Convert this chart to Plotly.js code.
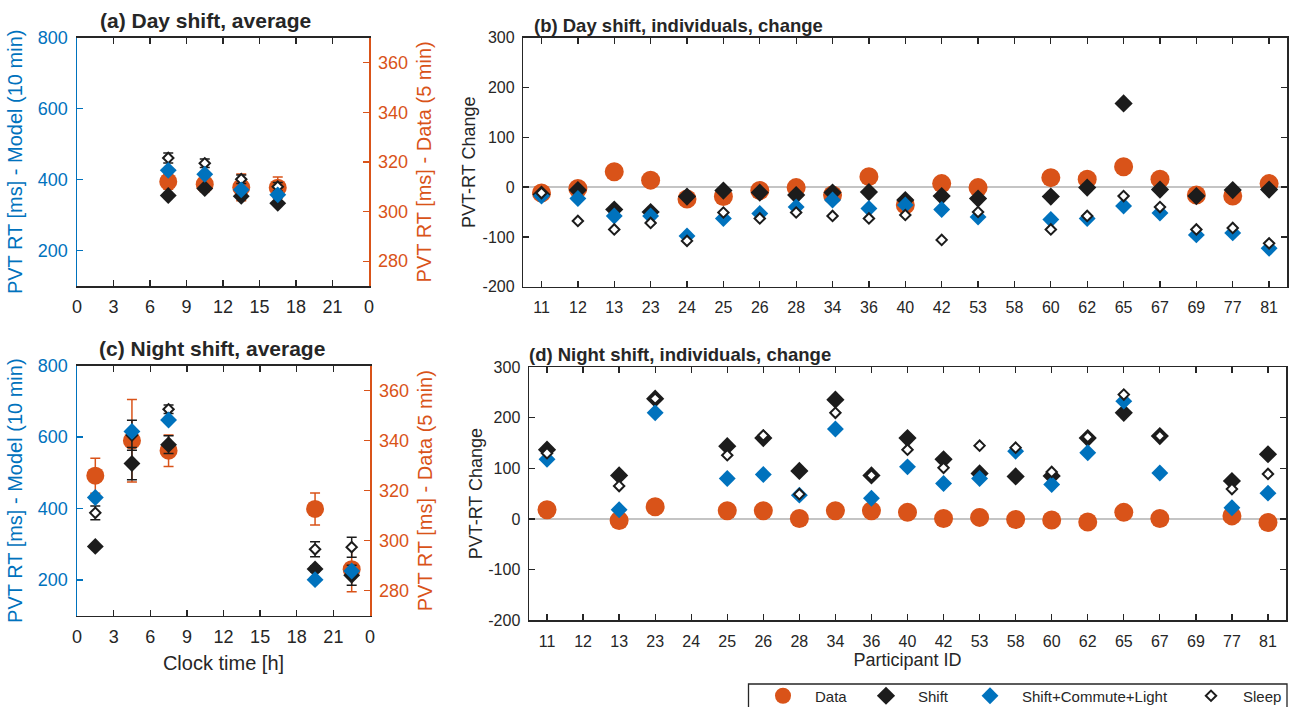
<!DOCTYPE html>
<html><head><meta charset="utf-8">
<script src="https://cdn.plot.ly/plotly-3.0.1.min.js"></script>
<style>html,body{margin:0;padding:0;background:#fff;} #chart{width:1290px;height:707px;}</style>
</head><body><div id="chart"></div>
<script>
// ---------- DATA ----------
const clockTicks = [0,3,6,9,12,15,18,21,24];
const clockTickText = ['0','3','6','9','12','15','18','21','0'];

// (a) Day shift, average
const clockDay = [7.5, 10.5, 13.5, 16.5];
const dayAvgData = [312, 311, 309.7, 309.6];
const dayAvgDataErr = [3, 3, 5.4, 4.3];
const dayAvgShift = [355, 375, 353, 333];
const dayAvgSCL = [426, 415, 371, 357];
const dayAvgSleep = [461, 446, 401, 380];
const dayAvgSleepErr = [14, 12, 12, 12];

// (c) Night shift, average
const clockNight = [1.5, 4.5, 7.5, 19.5, 22.5];
const nightAvgData = [326, 340, 336, 312.7, 288.6];
const nightAvgDataErr = [7, 16.5, 6.3, 6.4, 9];
const nightAvgShift = [294, 526, 579, 231, 213];
const nightAvgShiftErr = [5, 45, 25, 8, 28];
const nightAvgSCL = [431, 616, 648, 201, 225];
const nightAvgSleep = [388, 605, 678, 286, 292];
const nightAvgSleepErr = [19, 42, 12, 21, 28];

// (b),(d) individuals
const ids = ['11','12','13','23','24','25','26','28','34','36','40','42','53','58','60','62','65','67','69','77','81'];
const dayData  = [-12,-3,31,14,-24,-19,-7,-1,-16,21,-36,7,-1,null,19,16,41,16,-16,-18,7];
const dayShift = [-15,-6,-45,-50,-19,-7,-11,-16,-11,-10,-26,-18,-23,null,-19,-1,168,-5,-18,-6,-5];
const daySCL   = [-18,-23,-58,-58,-98,-63,-53,-40,-26,-43,-36,-45,-60,null,-65,-63,-38,-52,-96,-92,-123];
const daySleep = [-12,-68,-85,-72,-108,-51,-63,-51,-58,-63,-56,-106,-50,null,-85,-58,-18,-40,-85,-82,-113];

const nightData  = [18,null,-3,24,null,16,16,1,16,16,13,1,3,-1,-2,-6,13,1,null,6,-7];
const nightShift = [137,null,86,238,null,144,160,95,236,86,160,118,90,84,85,160,210,164,null,75,128];
const nightSCL   = [118,null,18,210,null,80,88,47,178,41,103,70,80,134,68,131,233,91,null,22,51];
const nightSleep = [130,null,65,238,null,126,165,49,210,86,137,101,145,141,93,162,246,164,null,59,89];

const changeTicks = [-200,-100,0,100,200,300];
const changeTickText = ['-200','-100','0','100','200','300'];

const seriesNames = ['Data','Shift','Shift+Commute+Light','Sleep'];

// ---------- STYLE ----------
const W = 1290, H = 707;
const F = 'Liberation Sans, Arial, Helvetica, sans-serif';
const ORANGE = '#D95319', BLUE = '#0072BD', BLACK = '#1c1c1c', AX = '#262626';
const px = x => x / W, py = y => 1 - y / H;

function mk(kind, size) {
  if (kind === 0) return {symbol:'circle', size:size, color:ORANGE, line:{width:0}};
  if (kind === 1) return {symbol:'diamond', size:size, color:BLACK, line:{width:0}};
  if (kind === 2) return {symbol:'diamond', size:size, color:BLUE, line:{width:0}};
  return {symbol:'diamond', size:size, color:'#ffffff', line:{width:2, color:BLACK}};
}
function tr(kind, x, y, xa, ya, size, err, errColor, legendOpts) {
  const t = {type:'scatter', mode:'markers', x:x, y:y, xaxis:xa, yaxis:ya,
    name: seriesNames[kind], marker: mk(kind, size), showlegend:false, hoverinfo:'x+y'};
  if (err) t.error_y = {type:'data', array:err, visible:true, color:errColor, thickness:1.5, width:5};
  if (legendOpts) { t.showlegend = true; t.legend = legendOpts; }
  return t;
}

const traces = [
  // panel a (data on y right, models on y2 left)
  tr(0, clockDay, dayAvgData, 'x', 'y', 18, dayAvgDataErr, ORANGE),
  tr(3, clockDay, dayAvgSleep, 'x', 'y2', 8, dayAvgSleepErr, BLACK),
  tr(1, clockDay, dayAvgShift, 'x', 'y2', 13),
  tr(2, clockDay, dayAvgSCL, 'x', 'y2', 13),
  // panel c
  tr(0, clockNight, nightAvgData, 'x2', 'y3', 18, nightAvgDataErr, ORANGE),
  tr(3, clockNight, nightAvgSleep, 'x2', 'y4', 8, nightAvgSleepErr, BLACK),
  tr(1, clockNight, nightAvgShift, 'x2', 'y4', 13, nightAvgShiftErr, BLACK),
  tr(2, clockNight, nightAvgSCL, 'x2', 'y4', 13),
  // panel b
  tr(0, ids, dayData, 'x3', 'y5', 19, null, null, 'legend'),
  tr(1, ids, dayShift, 'x3', 'y5', 14, null, null, 'legend2'),
  tr(2, ids, daySCL, 'x3', 'y5', 13, null, null, 'legend3'),
  tr(3, ids, daySleep, 'x3', 'y5', 8, null, null, 'legend4'),
  // panel d
  tr(0, ids, nightData, 'x4', 'y6', 19),
  tr(1, ids, nightShift, 'x4', 'y6', 14),
  tr(2, ids, nightSCL, 'x4', 'y6', 13),
  tr(3, ids, nightSleep, 'x4', 'y6', 8),
];

const common = {ticks:'inside', ticklen:6, tickwidth:1.3, showline:true, linewidth:1.5,
  zeroline:false, showgrid:false, fixedrange:true};

function clockX(domain, anchor, title) {
  return Object.assign({}, common, {domain:domain, anchor:anchor, range:[0,24],
    tickmode:'array', tickvals:clockTicks, ticktext:clockTickText, tickcolor:AX, linecolor:AX,
    mirror:'ticks', ticklabelstandoff:4,
    tickfont:{family:F, size:18, color:AX},
    title: title ? {text:title, font:{family:F, size:20, color:AX}, standoff:10} : undefined});
}
function dataY(domain, anchor) {
  return Object.assign({}, common, {domain:domain, anchor:anchor, side:'right', range:[270,370],
    tickmode:'array', tickvals:[280,300,320,340,360], tickcolor:ORANGE, linecolor:ORANGE,
    ticklabelstandoff:4,
    tickfont:{family:F, size:18, color:ORANGE},
    title:{text:'PVT RT [ms] - Data (5 min)', font:{family:F, size:20, color:ORANGE}, standoff:10}});
}
function modelY(over, anchor) {
  return Object.assign({}, common, {overlaying:over, anchor:anchor, side:'left', range:[100,800],
    tickmode:'array', tickvals:[200,400,600,800], tickcolor:BLUE, linecolor:BLUE,
    ticklabelstandoff:4,
    tickfont:{family:F, size:18, color:BLUE},
    title:{text:'PVT RT [ms] - Model (10 min)', font:{family:F, size:20, color:BLUE}, standoff:10}});
}
function idX(domain, anchor, title) {
  return Object.assign({}, common, {domain:domain, anchor:anchor, type:'category',
    categoryorder:'array', categoryarray:ids, range:[-0.5, 20.5], tickcolor:AX, linecolor:AX,
    mirror:'ticks', ticklabelstandoff:6,
    tickfont:{family:F, size:16, color:AX},
    title: title ? {text:title, font:{family:F, size:18, color:AX}, standoff:3} : undefined});
}
function changeY(domain, anchor, standoff) {
  return Object.assign({}, common, {domain:domain, anchor:anchor, range:[-200,300],
    tickmode:'array', tickvals:changeTicks, ticktext:changeTickText, tickcolor:AX, linecolor:AX,
    mirror:'ticks', ticklabelstandoff:4, zeroline:true, zerolinecolor:'#c4c4c4', zerolinewidth:2,
    tickfont:{family:F, size:16, color:AX},
    title:{text:'PVT-RT Change', font:{family:F, size:18, color:AX}, standoff:standoff}});
}

function legendAt(symX) {
  return {x: px(symX - 32), y: py(696), xanchor:'left', yanchor:'middle', orientation:'h',
    bgcolor:'rgba(0,0,0,0)', borderwidth:0, itemwidth:54, itemsizing:'trace',
    font:{family:F, size:15, color:AX}};
}

const layout = {
  width:W, height:H, margin:{l:0, r:0, t:0, b:0, autoexpand:false},
  paper_bgcolor:'#ffffff', plot_bgcolor:'#ffffff',
  font:{family:F, color:AX},
  showlegend:true,
  xaxis: clockX([px(77), px(369)], 'y'),
  yaxis: dataY([py(286), py(37.7)], 'x'),
  yaxis2: modelY('y', 'x'),
  xaxis2: clockX([px(77), px(370)], 'y3', 'Clock time [h]'),
  yaxis3: dataY([py(615.7), py(365.7)], 'x2'),
  yaxis4: modelY('y3', 'x2'),
  xaxis3: idX([px(523.3), px(1287.3)], 'y5'),
  yaxis5: changeY([py(286.7), py(37.7)], 'x3', 2),
  xaxis4: idX([px(529), px(1286)], 'y6', 'Participant ID'),
  yaxis6: changeY([py(620), py(367.3)], 'x4', 1),
  legend: legendAt(783),
  legend2: legendAt(886),
  legend3: legendAt(990),
  legend4: legendAt(1211),
  shapes: [
    {type:'rect', xref:'paper', yref:'paper', x0:px(748.5), x1:px(1287), y0:-0.02, y1:py(684),
     line:{color:AX, width:1.3}, fillcolor:'rgba(0,0,0,0)'}
  ],
  annotations: [
    {text:'(a) Day shift, average', xref:'paper', yref:'paper', x:px(205.5), y:py(20.5),
     xanchor:'center', yanchor:'middle', showarrow:false, font:{family:F, size:21, weight:'bold', color:AX}},
    {text:'(b) Day shift, individuals, change', xref:'paper', yref:'paper', x:px(532), y:py(25.5),
     xanchor:'left', yanchor:'middle', showarrow:false, font:{family:F, size:18.5, weight:'bold', color:AX}},
    {text:'(c) Night shift, average', xref:'paper', yref:'paper', x:px(212.5), y:py(348),
     xanchor:'center', yanchor:'middle', showarrow:false, font:{family:F, size:21, weight:'bold', color:AX}},
    {text:'(d) Night shift, individuals, change', xref:'paper', yref:'paper', x:px(527), y:py(354),
     xanchor:'left', yanchor:'middle', showarrow:false, font:{family:F, size:18.5, weight:'bold', color:AX}}
  ]
};

Plotly.newPlot('chart', traces, layout, {displayModeBar:false, staticPlot:true});
</script></body></html>
